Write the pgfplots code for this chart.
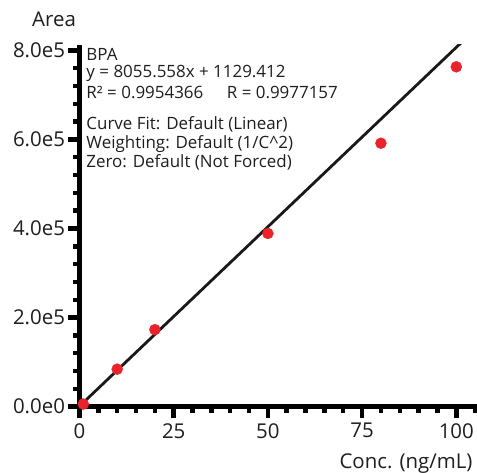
\documentclass[border=0pt]{standalone}
\usepackage{fontspec}
\setmainfont{Open Sans}
\usepackage{pgfplots}
\pgfplotsset{compat=1.18}
\definecolor{ptred}{RGB}{234,35,43}
\definecolor{txt}{RGB}{30,30,30}
\newcommand{\tickfont}{\fontsize{20.5}{24}\selectfont}
\newcommand{\notefont}{\fontsize{17}{20}\selectfont}

\pgfplotstableread{
conc area
1 6000
10 84300
20 173000
50 389000
80 591500
100 763000
}\calib

\begin{document}
\begin{tikzpicture}
\useasboundingbox (-79.5bp,-66.3bp) rectangle (397.5bp,406.7bp);
\begin{axis}[
    scale only axis,
    width=397.5bp, height=361.7bp,
    at={(0,0)}, anchor=south west,
    xmin=0, xmax=105.5,
    ymin=0, ymax=812000,
    axis x line=bottom, axis y line=left,
    axis line style={-, line width=5.5bp, black},
    xtick={0,25,50,75,100},
    xticklabels={0,25,50,75,100},
    minor xtick={5,10,...,105},
    ytick={0,200000,400000,600000,800000},
    yticklabels={0.0e0,2.0e5,4.0e5,6.0e5,8.0e5},
    minor ytick={40000,80000,...,800000},
    scaled y ticks=false,
    tick align=outside,
    major tick length=11bp, minor tick length=6bp,
    tick style={line width=4.5bp, black},
    ticklabel style={font=\tickfont, text=txt},
    xticklabel style={yshift=-2bp},
    clip=true,
]
\addplot[line width=2.8bp, black!90] coordinates {(0,1129.412) (105.5,851031)};
\addplot[only marks, mark=*, mark size=5.5bp, ptred, mark options={draw=ptred, fill=ptred}] table[x=conc, y=area] {\calib};
\end{axis}
\node[anchor=base west, inner sep=0pt, text=txt, font=\tickfont] at (-47.5bp,379.7bp) {Area};
\node[anchor=base east, inner sep=0pt, text=txt, font=\tickfont] at (393.2bp,-61.5bp) {Conc. (ng/mL)};
\begin{scope}[every node/.style={anchor=base west, inner sep=0pt, text=txt, font=\notefont}]
\node at (6.8bp,345.7bp) {BPA};
\node at (6.8bp,329.4bp) {y = 8055.558x + 1129.412};
\node at (6.8bp,308.4bp) {R² = 0.9954366};
\node at (147.2bp,308.4bp) {R = 0.9977157};
\node at (6.8bp,277.4bp) {Curve Fit: Default (Linear)};
\node at (6.8bp,258.4bp) {Weighting: Default (1/C\^{}2)};
\node at (6.8bp,239.0bp) {Zero: Default (Not Forced)};
\end{scope}
\end{tikzpicture}
\end{document}
